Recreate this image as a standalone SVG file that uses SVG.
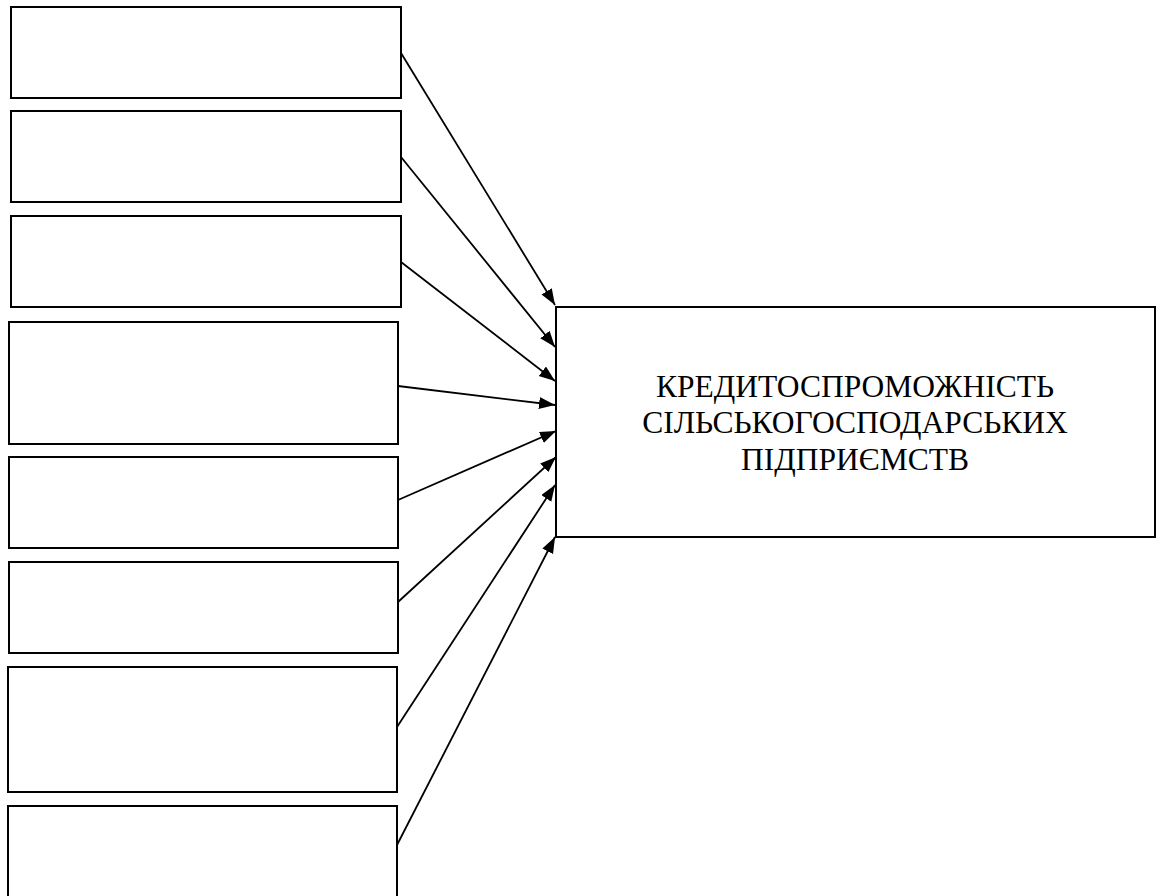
<svg xmlns="http://www.w3.org/2000/svg" width="1160" height="896" viewBox="0 0 1160 896">
<style>
.box{fill:#fff;stroke:#000;stroke-width:2}
.con{fill:none;stroke:#000;stroke-width:1.8}
.lbl{font-family:"Liberation Serif","Times New Roman",serif;font-size:31.5px;fill:#000;text-anchor:middle}
</style>
<defs>
<marker id="arr" markerUnits="userSpaceOnUse" markerWidth="18" markerHeight="14" refX="16" refY="6" orient="auto">
<path d="M0,0 L16,6 L0,12 Z" fill="#000"/>
</marker>
</defs>
<rect width="1160" height="896" fill="#fff"/>
<g id="n1"><rect class="box" x="11" y="7" width="390" height="91"/></g>
<g id="n2"><rect class="box" x="11" y="111" width="390" height="91"/></g>
<g id="n3"><rect class="box" x="11" y="216" width="390" height="91"/></g>
<g id="n4"><rect class="box" x="9" y="322" width="389" height="122"/></g>
<g id="n5"><rect class="box" x="9" y="457" width="389" height="91"/></g>
<g id="n6"><rect class="box" x="9" y="562" width="389" height="91"/></g>
<g id="n7"><rect class="box" x="8" y="667" width="389" height="125"/></g>
<g id="n8"><rect class="box" x="8" y="806" width="389" height="100"/></g>
<g id="main"><rect class="box" x="556" y="307" width="599" height="230"/>
<text class="lbl" x="855" y="397">КРЕДИТОСПРОМОЖНІСТЬ</text>
<text class="lbl" x="855" y="433">СІЛЬСЬКОГОСПОДАРСЬКИХ</text>
<text class="lbl" x="855" y="470">ПІДПРИЄМСТВ</text>
</g>
<g id="connectors">
<line class="con" x1="401" y1="53" x2="555" y2="305" marker-end="url(#arr)"/>
<line class="con" x1="401" y1="157" x2="555" y2="347" marker-end="url(#arr)"/>
<line class="con" x1="401" y1="262" x2="555" y2="381" marker-end="url(#arr)"/>
<line class="con" x1="398" y1="386" x2="555" y2="405" marker-end="url(#arr)"/>
<line class="con" x1="398" y1="500" x2="556" y2="431" marker-end="url(#arr)"/>
<line class="con" x1="398" y1="602" x2="556" y2="457" marker-end="url(#arr)"/>
<line class="con" x1="397" y1="727" x2="555" y2="485" marker-end="url(#arr)"/>
<line class="con" x1="397" y1="845" x2="555" y2="537" marker-end="url(#arr)"/>
</g>
</svg>
